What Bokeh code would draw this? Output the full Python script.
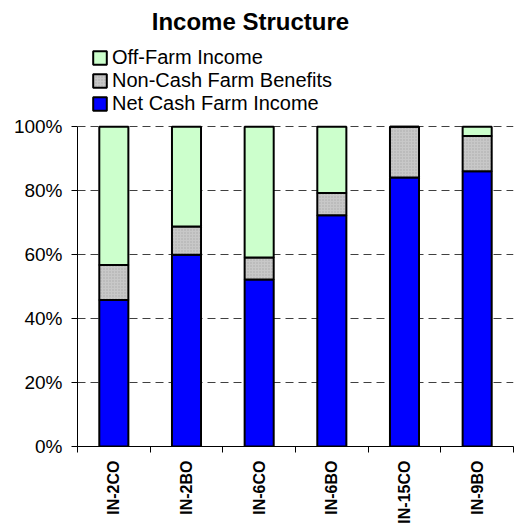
from bokeh.plotting import figure
from bokeh.models import Range1d, FixedTicker, Legend, LegendItem, Label
from bokeh.embed import file_html
from bokeh.resources import INLINE
import math

categories = ["IN-2CO", "IN-2BO", "IN-6CO", "IN-6BO", "IN-15CO", "IN-9BO"]
net_cash = [45.8, 60.0, 52.2, 72.3, 84.1, 86.1]
non_cash = [11.0, 8.8, 6.9, 7.0, 15.9, 11.0]
off_farm = [43.2, 31.2, 40.9, 20.7, 0.0, 2.9]
y_ticks = [0, 20, 40, 60, 80, 100]

n = len(categories)
xs = [i + 0.5 for i in range(n)]
b1 = [0.0] * n
t1 = [v / 100 for v in net_cash]
t2 = [a + b / 100 for a, b in zip(t1, non_cash)]
t3 = [a + b / 100 for a, b in zip(t2, off_farm)]

p = figure(width=514, height=529, output_backend="svg", toolbar_location=None,
           x_range=Range1d(0, n), y_range=Range1d(0, 1.395),
           min_border_left=77, min_border_right=1, min_border_top=0, min_border_bottom=83)
p.outline_line_color = None
p.background_fill_color = "white"
p.border_fill_color = "white"

bar_kw = dict(width=0.4, line_color="black", line_width=2)
r1 = p.vbar(x=xs, bottom=b1, top=t1, fill_color="#0000ff", **bar_kw)
r2 = p.vbar(x=xs, bottom=t1, top=t2, fill_color="#c8c8c8",
            hatch_pattern="dot", hatch_color="#aaaaaa", hatch_scale=3, hatch_weight=1, **bar_kw)
r3 = p.vbar(x=xs, bottom=t2, top=t3, fill_color="#ccffcc", **bar_kw)

# y axis
p.yaxis.bounds = (0, 1)
p.yaxis.ticker = FixedTicker(ticks=[v / 100 for v in y_ticks])
p.yaxis.major_label_overrides = {v / 100: f"{v}%" for v in y_ticks}
p.yaxis.minor_tick_line_color = None
p.yaxis.major_tick_in = 0
p.yaxis.major_tick_out = 6
p.yaxis.major_label_standoff = 9
p.yaxis.major_label_text_font = "Liberation Sans"
p.yaxis.major_label_text_font_size = "19px"
p.yaxis.major_label_text_color = "black"
p.yaxis.axis_line_color = "black"
p.yaxis.major_tick_line_color = "black"

# x axis
p.xaxis.ticker = FixedTicker(ticks=xs, minor_ticks=list(range(n + 1)))
p.xaxis.major_label_overrides = {x: c for x, c in zip(xs, categories)}
p.xaxis.major_tick_line_color = None
p.xaxis.major_tick_in = 0
p.xaxis.major_tick_out = 6
p.xaxis.minor_tick_in = 0
p.xaxis.minor_tick_out = 6
p.xaxis.minor_tick_line_color = "black"
p.xaxis.major_label_orientation = math.pi / 2
p.xaxis.major_label_standoff = 8
p.xaxis.major_label_text_font = "Liberation Sans"
p.xaxis.major_label_text_font_style = "bold"
p.xaxis.major_label_text_font_size = "16px"
p.xaxis.major_label_text_color = "black"
p.xaxis.axis_line_color = "black"

p.xgrid.grid_line_color = None
p.ygrid.ticker = FixedTicker(ticks=[v / 100 for v in y_ticks if v > 0])
p.ygrid.grid_line_color = "#404040"
p.ygrid.grid_line_dash = "8 5"
p.ygrid.grid_line_width = 1

legend = Legend(items=[
    LegendItem(label="Off-Farm Income", renderers=[r3]),
    LegendItem(label="Non-Cash Farm Benefits", renderers=[r2]),
    LegendItem(label="Net Cash Farm Income", renderers=[r1]),
], location=(14, 331), orientation="vertical")
legend.padding = 0
legend.margin = 0
legend.spacing = -1
legend.border_line_color = None
legend.background_fill_alpha = 0
legend.glyph_width = 17
legend.glyph_height = 17
legend.label_standoff = 4
legend.label_text_font = "Liberation Sans"
legend.label_text_font_size = "20px"
legend.label_text_color = "black"
p.add_layout(legend)

title = Label(x=2.38, y=1.33, text="Income Structure", text_align="center",
              text_baseline="alphabetic", text_font="Liberation Sans",
              text_font_style="bold", text_font_size="24px", text_color="black")
p.add_layout(title)

open("out.html", "w").write(file_html(p, INLINE))
